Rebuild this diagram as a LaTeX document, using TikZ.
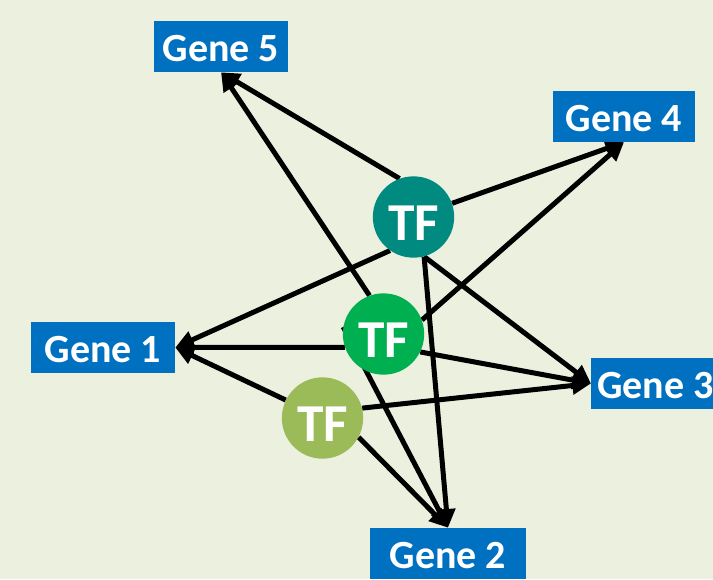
\documentclass[tikz,border=0pt]{standalone}
\usepackage{fontspec}
\setmainfont{Carlito}
\usetikzlibrary{arrows.meta}

\definecolor{paper}{HTML}{EBF1DE}
\definecolor{geneblue}{HTML}{0070C0}
\definecolor{tfteal}{HTML}{008A80}
\definecolor{tfgreen}{HTML}{00B050}
\definecolor{tfolive}{HTML}{9BBB59}

\pgfdeclarelayer{edges}
\pgfsetlayers{edges,main}

\tikzset{
  gene/.style={fill=geneblue, text=white, font=\bfseries\fontsize{30}{36}\selectfont,
    minimum height=38.25pt, text height=23pt, text depth=0pt},
  tf/.style={circle, text=white, font=\bfseries\fontsize{40}{48}\selectfont,
    minimum size=61pt, inner sep=0pt, text height=34.5pt, text depth=0pt},
  link/.style={line width=3.75pt, -{Triangle[length=14pt, width=13pt]}}
}

\begin{document}
\begin{tikzpicture}[x=0.75pt, y=-0.75pt]
  \useasboundingbox (0,0) rectangle (713,579);
  \clip (0,0) rectangle (713,579);
  \begin{pgfonlayer}{edges}
    \fill[paper] (0,0) rectangle (713,579);
  \end{pgfonlayer}

  % Genes
  \node[gene, minimum width=100.5pt] (gene5) at (221, 46.5) {Gene 5};
  \node[gene, minimum width=106.5pt] (gene4) at (624, 116.5) {Gene 4};
  \node[gene, minimum width=108pt] (gene1) at (103, 347.5) {Gene 1};
  \node[gene, anchor=west, inner xsep=4.5pt] (gene3) at (591, 383.5) {Gene 3};
  \node[gene, minimum width=117pt] (gene2) at (448, 553.5) {Gene 2};

  % Transcription factors
  \node[tf, fill=tfteal] (tf1) at (413.5, 217) {TF};
  \node[tf, fill=tfgreen] (tf2) at (383.5, 334) {TF};
  \node[tf, fill=tfolive] (tf3) at (322.5, 418) {TF};

  % Regulation arrows (behind the circles)
  \begin{pgfonlayer}{edges}
    \draw[link] (tf1.110) -- (gene5.south);
    \draw[link] (tf1) -- (gene4.south);
    \draw[link] (tf1.235) -- (gene1.east);
    \draw[link] (tf1.285) -- (gene3.west);
    \draw[link] (tf1.285) -- (gene2.north);
    \draw[link] (tf2.110) -- (gene5.south);
    \draw[link] (tf2.20) -- (gene4.south);
    \draw[link] (tf2.199) -- (gene1.east);
    \draw[link] (tf2.334) -- (gene3.west);
    \draw[link] (tf2.170) -- (gene2.north);
    \draw[link] (tf3.154) -- (gene1.east);
    \draw[link] (tf3.14) -- (gene3.west);
    \draw[link] (tf3.332) -- (gene2.north);
  \end{pgfonlayer}
\end{tikzpicture}
\end{document}
